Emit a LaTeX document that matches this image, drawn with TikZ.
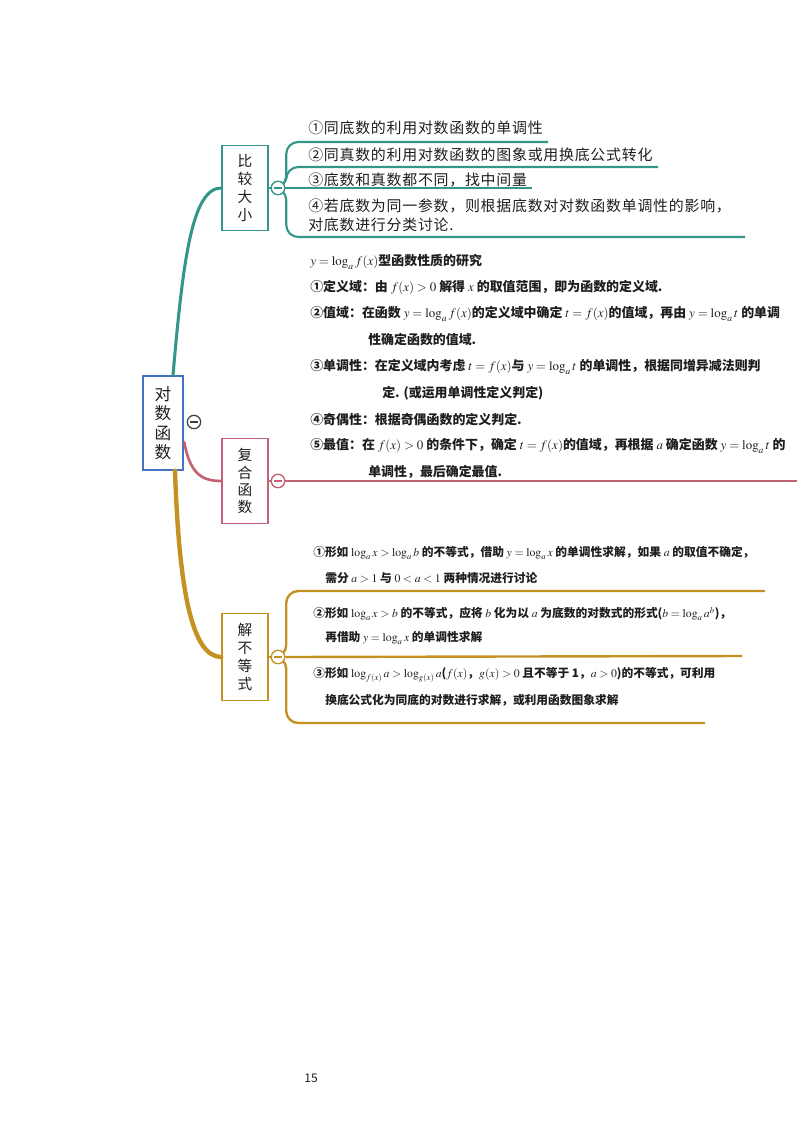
\documentclass[tikz,border=0pt]{standalone}
\usepackage{mathptmx}
\usepackage[no-math]{fontspec}
\setmainfont{Noto Sans CJK SC}
\usetikzlibrary{calc}
\definecolor{tealc}{RGB}{52,150,136}
\definecolor{rosec}{RGB}{194,98,116}
\definecolor{goldc}{RGB}{196,146,34}
\definecolor{bluec}{RGB}{68,114,196}
\definecolor{txt}{RGB}{30,30,30}
\definecolor{knobgray}{RGB}{60,60,60}
\tikzset{
  box/.style={draw, fill=white, line width=1.2pt, inner sep=0pt, align=center, text=txt,
    font=\fontsize{11}{13.5}\selectfont, minimum width=34.5pt, minimum height=64pt},
  rootbox/.style={box, draw=bluec, line width=1.7pt, minimum width=30pt, minimum height=70pt,
    font=\fontsize{12.5}{14.6}\selectfont},
  knob/.style={circle, draw, fill=white, line width=0.9pt, minimum size=10pt, inner sep=0pt},
  minus/.style={line width=0.9pt},
  toptxt/.style={anchor=west, inner sep=0pt, text=txt,
    font=\fontsize{11.2}{13}\selectfont\addfontfeature{LetterSpace=5}},
  midtxt/.style={anchor=west, inner sep=0pt, text=txt,
    font=\fontsize{9.7}{12}\selectfont\bfseries\boldmath},
  bottxt/.style={anchor=west, inner sep=0pt, text=txt,
    font=\fontsize{8.8}{10}\selectfont\bfseries\boldmath},
  tealmain/.style={draw=tealc, line width=2.3pt, line cap=round},
  rosemain/.style={draw=rosec, line width=2pt, line cap=round},
  goldmain/.style={draw=goldc, line width=3.3pt, line cap=round},
  tealbr/.style={draw=tealc, line width=1.6pt, rounded corners=9pt},
  rosebr/.style={draw=rosec, line width=1.6pt},
  goldbr/.style={draw=goldc, line width=1.8pt, rounded corners=9pt},
}
\begin{document}
\begin{tikzpicture}[x=0.75pt,y=-0.75pt]
\useasboundingbox (0,0) rectangle (800,1132);

\node (root) [rootbox] at (163,423) {对\\数\\函\\数};
\node (cmp) [box, draw=tealc] at (245,188) {比\\较\\大\\小};
\node (comp) [box, draw=rosec, font=\fontsize{11}{12.8}\selectfont] at (245,481) {复\\合\\函\\数};
\node (ineq) [box, draw=goldc, minimum height=65pt] at (245,657) {解\\不\\等\\式};

% connectors from root
\draw[tealmain] ($(root.north)+(10,0)$) .. controls (183,260) and (192,188) .. (cmp.west);
\draw[rosemain] ($(root.east)+(0,19)$) .. controls (190,472) and (200,481) .. (comp.west);
\draw[goldmain] ($(root.south)+(12,0)$) .. controls (179,590) and (192,657) .. (ineq.west);

% knobs
\node (c0) [knob, draw=knobgray] at (194,422) {};
\draw[minus, knobgray] ($(c0.center)+(-4,0)$) -- ($(c0.center)+(4,0)$);

\node (c1) [knob, draw=tealc] at (278,188) {};
\node (c2) [knob, draw=rosec] at (278,481) {};
\node (c3) [knob, draw=goldc] at (278,657) {};

% end points of branches
\coordinate (e1) at (548,142);
\coordinate (e2) at (658,167);
\coordinate (e3) at (532,188);
\coordinate (e4) at (745,237);
\coordinate (e5) at (797,481);
\coordinate (f1) at (765,591);
\coordinate (f2) at (742,656);
\coordinate (f3) at (705,723);

% top branches
\draw[tealbr] (cmp.east) -- (c1.west);
\draw[tealbr] (c1.east) -- ++(1,0) |- (e1);
\draw[tealbr] (c1.east) -- ++(1,0) |- (e2);
\draw[tealbr] (c1.east) -- (e3);
\draw[tealbr] (c1.east) -- ++(1,0) |- (e4);

% middle branch
\draw[rosebr] (comp.east) -- (c2.west);
\draw[rosebr] (c2.east) -- (e5);

% bottom branches
\draw[goldbr] (ineq.east) -- (c3.west);
\draw[goldbr] (c3.east) -- ++(1,0) |- (f1);
\draw[goldbr] (c3.east) -- (f2);
\draw[goldbr] (c3.east) -- ++(1,0) |- (f3);

% knobs on top of branch lines
\node [knob, draw=tealc] at (c1) {};
\draw[minus, tealc] ($(c1.center)+(-4,0)$) -- ($(c1.center)+(4,0)$);
\node [knob, draw=rosec] at (c2) {};
\draw[minus, rosec] ($(c2.center)+(-4,0)$) -- ($(c2.center)+(4,0)$);
\node [knob, draw=goldc] at (c3) {};
\draw[minus, goldc] ($(c3.center)+(-4,0)$) -- ($(c3.center)+(4,0)$);

% top texts
\node (t1) [toptxt] at (308,128) {①同底数的利用对数函数的单调性};
\node (t2) [toptxt] at (308,155) {②同真数的利用对数函数的图象或用换底公式转化};
\node (t3) [toptxt] at (308,180) {③底数和真数都不同，找中间量};
\node (t4) [toptxt] at (308,206) {④若底数为同一参数，则根据底数对对数函数单调性的影响，};
\node (t5) [toptxt] at (308,225) {对底数进行分类讨论.};

% middle texts
\node (m0) [midtxt] at (310,262) {$y=\log_a f(x)$型函数性质的研究};
\node (m1) [midtxt] at (310,287) {①定义域：由 $f(x)>0$ 解得 $x$ 的取值范围，即为函数的定义域.};
\node (m2) [midtxt] at (310,314) {②值域：在函数 $y=\log_a f(x)$的定义域中确定 $t=f(x)$的值域，再由 $y=\log_a t$ 的单调};
\node (m3) [midtxt] at (368,340) {性确定函数的值域.};
\node (m4) [midtxt] at (310,367) {③单调性：在定义域内考虑 $t=f(x)$与 $y=\log_a t$ 的单调性，根据同增异减法则判};
\node (m5) [midtxt] at (382,393) {定. (或运用单调性定义判定)};
\node (m6) [midtxt] at (310,420) {④奇偶性：根据奇偶函数的定义判定.};
\node (m7) [midtxt] at (310,446) {⑤最值：在 $f(x)>0$ 的条件下，确定 $t=f(x)$的值域，再根据 $a$ 确定函数 $y=\log_a t$ 的};
\node (m8) [midtxt] at (368,472) {单调性，最后确定最值.};

% bottom texts
\node (b1) [bottxt] at (313,553) {①形如 $\log_a x>\log_a b$ 的不等式，借助 $y=\log_a x$ 的单调性求解，如果 $a$ 的取值不确定，};
\node (b2) [bottxt] at (325,578) {需分 $a>1$ 与 $0<a<1$ 两种情况进行讨论};
\node (b3) [bottxt] at (313,614) {②形如 $\log_a x>b$ 的不等式，应将 $b$ 化为以 $a$ 为底数的对数式的形式($b=\log_a a^b$)，};
\node (b4) [bottxt] at (325,638) {再借助 $y=\log_a x$ 的单调性求解};
\node (b5) [bottxt] at (313,675) {③形如 $\log_{f(x)}a>\log_{g(x)}a$($f(x)$，$g(x)>0$ 且不等于 1，$a>0$)的不等式，可利用};
\node (b6) [bottxt] at (325,700) {换底公式化为同底的对数进行求解，或利用函数图象求解};

% page number
\node (pg) [inner sep=0pt, text=txt, font=\fontsize{9}{10}\selectfont] at (311,1078) {15};
\end{tikzpicture}
\end{document}
